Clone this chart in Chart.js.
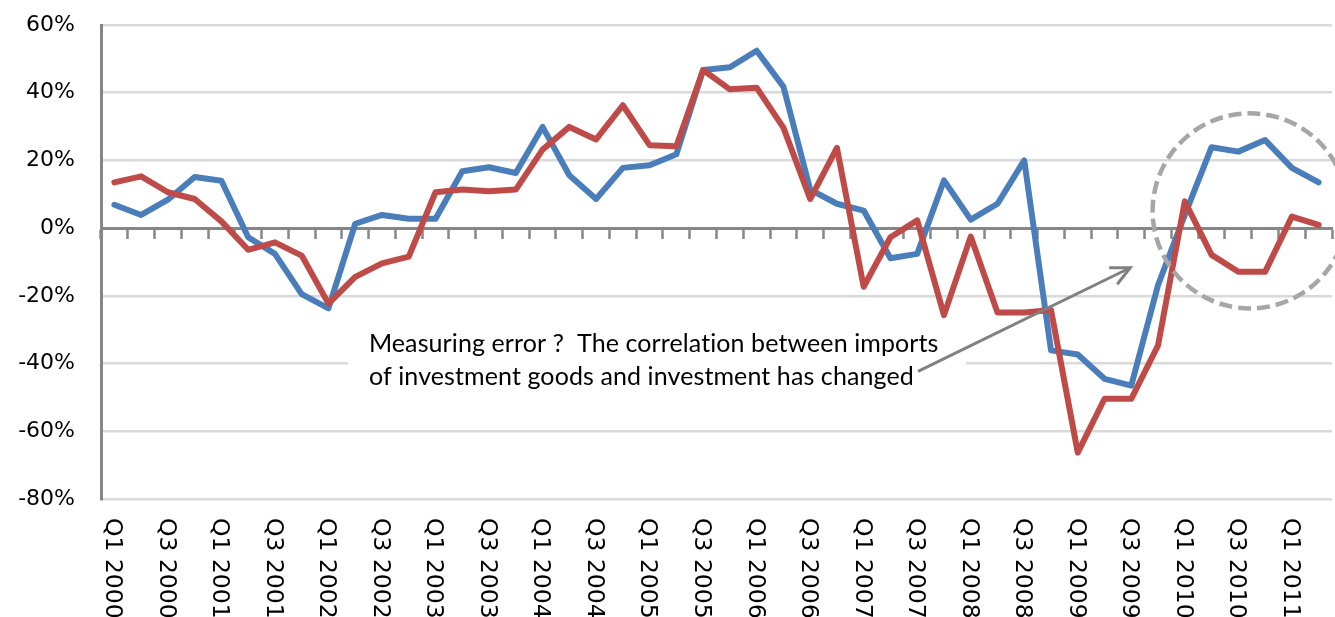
<!DOCTYPE html>
<html>
<head>
<meta charset="utf-8">
<script src="https://cdn.jsdelivr.net/npm/chart.js@4.4.1/dist/chart.umd.min.js"></script>
<style>
  html, body { margin: 0; padding: 0; background: #fff; }
</style>
</head>
<body>
<canvas id="chart" width="1335" height="617"></canvas>
<script>
// Quarters on the category axis, Q1 2000 .. Q2 2011
const quarters = [
    "Q1 2000", "Q2 2000", "Q3 2000", "Q4 2000",
    "Q1 2001", "Q2 2001", "Q3 2001", "Q4 2001",
    "Q1 2002", "Q2 2002", "Q3 2002", "Q4 2002",
    "Q1 2003", "Q2 2003", "Q3 2003", "Q4 2003",
    "Q1 2004", "Q2 2004", "Q3 2004", "Q4 2004",
    "Q1 2005", "Q2 2005", "Q3 2005", "Q4 2005",
    "Q1 2006", "Q2 2006", "Q3 2006", "Q4 2006",
    "Q1 2007", "Q2 2007", "Q3 2007", "Q4 2007",
    "Q1 2008", "Q2 2008", "Q3 2008", "Q4 2008",
    "Q1 2009", "Q2 2009", "Q3 2009", "Q4 2009",
    "Q1 2010", "Q2 2010", "Q3 2010", "Q4 2010",
    "Q1 2011", "Q2 2011"
];

// Year-on-year change in %.
const blueValues = [
    6.9, 3.9, 8.4, 15.1, 14.0, -2.7, -7.6, -19.5,
    -23.7, 1.3, 3.9, 2.8, 2.8, 16.8, 18.0, 16.3,
    29.9, 15.6, 8.6, 17.8, 18.6, 21.8, 46.7, 47.5,
    52.4, 41.8, 11.4, 7.2, 5.2, -8.9, -7.6, 14.1,
    2.5, 7.2, 20.0, -36.1, -37.3, -44.5, -46.5, -16.8,
    3.9, 23.9, 22.6, 26.0, 17.8, 13.5
];
const redValues = [
    13.5, 15.3, 10.6, 8.6, 2.0, -6.4, -4.2, -8.1,
    -22.3, -14.4, -10.4, -8.4, 10.6, 11.4, 10.9, 11.4,
    23.2, 29.9, 26.2, 36.3, 24.5, 24.2, 46.7, 41.0,
    41.5, 29.7, 8.6, 23.7, -17.3, -2.7, 2.3, -25.7,
    -2.5, -24.9, -24.9, -24.2, -66.3, -50.4, -50.4, -34.6,
    7.9, -7.9, -12.9, -12.9, 3.4, 1.0
];

// Y axis range
const yMin = -80;
const yMax = 60;
const yStep = 20;

const noteLines = [
    "Measuring error ?  The correlation between imports",
    "of investment goods and investment has changed"
];

// Draws the rotated quarter labels, the note, the arrow and the dashed circle.
const extrasPlugin = {
    id: 'extras',
    afterDatasetsDraw(chart) {
        const ctx = chart.ctx;
        const x = chart.scales.x;
        const y = chart.scales.y;
        ctx.save();

        // quarter labels, every second one, reading top to bottom
        ctx.fillStyle = '#000';
        ctx.font = '23.5px "DejaVu Sans"';
        ctx.textAlign = 'left';
        ctx.textBaseline = 'middle';
        for (let i = 0; i < quarters.length; i += 2) {
            ctx.save();
            ctx.translate(x.getPixelForValue(i) - 2, 518);
            ctx.rotate(Math.PI / 2);
            ctx.fillText(quarters[i], 0, 0);
            ctx.restore();
        }

        // note with a white box behind it
        let tx = x.getPixelForValue(9.51);
        let ty = y.getPixelForValue(-36.5);
        ctx.fillStyle = '#fff';
        ctx.fillRect(tx - 21, ty - 28, 618, 80);
        ctx.fillStyle = '#000';
        ctx.font = '25px Lato';
        ctx.letterSpacing = '0.1px'; // no "ti" ligature
        ctx.textBaseline = 'alphabetic';
        ctx.fillText(noteLines[0], tx, ty);
        ctx.fillText(noteLines[1], tx, ty + 33);

        // arrow
        let x1 = x.getPixelForValue(30.03), y1 = y.getPixelForValue(-42.3);
        let x2 = x.getPixelForValue(37.96), y2 = y.getPixelForValue(-11.7);
        let ang = Math.atan2(y2 - y1, x2 - x1);
        ctx.strokeStyle = '#808080';
        ctx.lineWidth = 3;
        ctx.lineCap = 'butt';
        ctx.beginPath();
        ctx.moveTo(x1, y1);
        ctx.lineTo(x2, y2);
        ctx.stroke();
        ctx.beginPath();
        ctx.moveTo(x2 - 21 * Math.cos(ang - 0.45), y2 - 21 * Math.sin(ang - 0.45));
        ctx.lineTo(x2, y2);
        ctx.lineTo(x2 - 21 * Math.cos(ang + 0.45), y2 - 21 * Math.sin(ang + 0.45));
        ctx.stroke();

        // dashed circle round the last quarters
        let cx = x.getPixelForValue(42.44), cy = y.getPixelForValue(5.1);
        let r = cy - y.getPixelForValue(33.9);
        ctx.strokeStyle = '#a6a6a6';
        ctx.lineWidth = 4.5;
        ctx.setLineDash([13, 6]);
        ctx.beginPath();
        ctx.arc(cx, cy, r, 0, Math.PI * 2);
        ctx.stroke();

        ctx.restore();
    }
};

const chart = new Chart(document.getElementById('chart').getContext('2d'), {
    type: 'line',
    data: {
        labels: quarters,
        datasets: [{
            label: 'Series 1',
            data: blueValues,
            borderColor: '#4a7ebb',
            backgroundColor: '#4a7ebb',
            order: 1
        }, {
            label: 'Series 2',
            data: redValues,
            borderColor: '#be4b48',
            backgroundColor: '#be4b48',
            order: 0
        }]
    },
    options: {
        responsive: false,
        animation: false,
        devicePixelRatio: 1,
        layout: {
            padding: { top: 25, right: 3, bottom: 118, left: 0 }
        },
        elements: {
            point: { radius: 0 },
            line: {
                tension: 0,
                borderWidth: 6,
                borderJoinStyle: 'round',
                borderCapStyle: 'round',
                fill: false
            }
        },
        plugins: {
            legend: { display: false },
            tooltip: { enabled: false }
        },
        scales: {
            x: {
                type: 'category',
                position: { y: 0 },
                offset: true,
                grid: {
                    offset: true,
                    drawOnChartArea: false,
                    drawTicks: true,
                    tickLength: 9,
                    tickColor: '#868686',
                    tickWidth: 2.5
                },
                border: { color: '#868686', width: 3 },
                ticks: { display: false, autoSkip: false }
            },
            y: {
                min: yMin,
                max: yMax,
                ticks: {
                    stepSize: yStep,
                    color: '#000',
                    padding: 0,
                    font: { family: 'DejaVu Sans', size: 22 },
                    callback: (v) => v + '%'
                },
                // invisible tick marks keep the labels away from the axis
                grid: {
                    color: '#d9d9d9',
                    lineWidth: 2.5,
                    drawTicks: true,
                    tickLength: 26,
                    tickColor: 'rgba(0,0,0,0)'
                },
                border: { color: '#868686', width: 3 },
                afterFit: (scale) => { scale.width = 101; }
            }
        }
    },
    plugins: [extrasPlugin]
});
</script>
</body>
</html>
